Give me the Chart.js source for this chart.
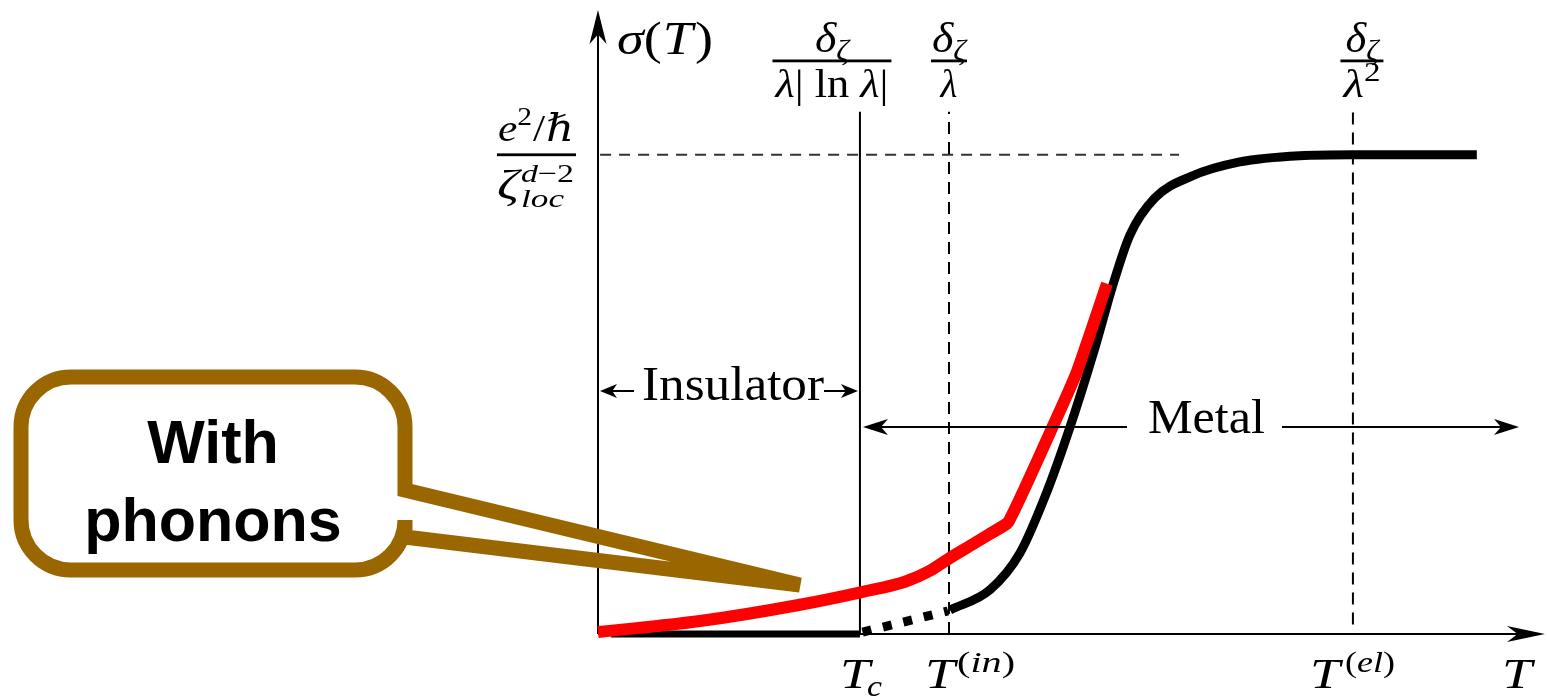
<!DOCTYPE html>
<html><head><meta charset="utf-8">
<script src="https://cdn.jsdelivr.net/npm/chart.js@4"></script>
<style>html,body{margin:0;padding:0;background:#fff}canvas{display:block}</style>
</head><body>
<canvas id="c" width="1547" height="700" style="width:1547px;height:700px"></canvas>
<script>
// ---- data (T in units of Tc, sigma in units of e^2/hbar/zeta^(d-2)) ----
const insulatorT     = [0.05, 1.0];
const insulatorSigma = [0, 0];
const crossoverT     = [1.01, 1.336];
const crossoverSigma = [0.004, 0.048];
const metalT     = [1.344, 1.496, 1.611, 1.706, 1.802, 1.897, 1.966, 2.031, 2.126, 2.260, 2.450, 2.679, 2.882, 3.355];
const metalSigma = [0.050, 0.092, 0.169, 0.286, 0.432, 0.597, 0.729, 0.833, 0.910, 0.954, 0.985, 0.998, 1.000, 1.000];
const phononLowT      = [0, 0.389, 0.771, 1.011, 1.172, 1.267, 1.344, 1.439, 1.565];
const phononLowSigma  = [0.004, 0.027, 0.061, 0.088, 0.109, 0.132, 0.159, 0.190, 0.232];
const phononHighT     = [1.496, 1.565, 1.737, 1.828, 1.943];
const phononHighSigma = [0.209, 0.232, 0.434, 0.547, 0.731];
const markerNames = ['Tc', 'Tin', 'Tel'];
const markerT     = [1.0, 1.340, 2.882];
const markerTop   = 1.09;
const plateauSigma = 1.0;
const plateauT     = [0.008, 2.218];
const regionNames  = ['Insulator', 'Metal'];
const calloutLines = ['With', 'phonons'];

const pts = (xs, ys) => xs.map((x, i) => ({x, y: ys[i]}));
const SERIF = '"Liberation Serif","DejaVu Serif",serif';

function drawParts(ctx, parts, x, y, size, align, fitW) {
  let w = 0; const m = [];
  for (const p of parts) {
    const s = size * (p[2] || 1);
    ctx.font = (p[1] ? 'italic ' : '') + s + 'px ' + SERIF;
    const pw = ctx.measureText(p[0]).width;
    m.push([s, pw]); w += pw + (p[4] || 0) * size;
  }
  const k = fitW ? fitW / w : 1;
  ctx.save();
  ctx.translate(align === 'center' ? x - w * k / 2 : x, y);
  ctx.scale(k, 1);
  let cx = 0;
  parts.forEach((p, i) => {
    ctx.font = (p[1] ? 'italic ' : '') + m[i][0] + 'px ' + SERIF;
    ctx.fillText(p[0], cx, (p[3] || 0) * size);
    cx += m[i][1] + (p[4] || 0) * size;
  });
  ctx.restore();
}
function arrowHead(ctx, tx, ty, dx, dy, len, hw) {
  const px = -dy, py = dx;
  const bx = tx - dx * len, by = ty - dy * len;
  ctx.beginPath();
  ctx.moveTo(tx, ty);
  ctx.lineTo(bx + px * hw, by + py * hw);
  ctx.lineTo(tx - dx * len * 0.72, ty - dy * len * 0.72);
  ctx.lineTo(bx - px * hw, by - py * hw);
  ctx.closePath();
  ctx.fill();
}
function fitText(ctx, text, x, y, w, font) {
  ctx.font = font;
  const mw = ctx.measureText(text).width;
  ctx.save(); ctx.translate(x, y); ctx.scale(w / mw, 1); ctx.fillText(text, 0, 0); ctx.restore();
}

const deco = {
  id: 'deco',
  beforeDraw(chart) {
    const c = chart.ctx; c.save(); c.fillStyle = '#fff'; c.fillRect(0, 0, chart.width, chart.height); c.restore();
  },
  beforeDatasetsDraw(chart) {
    const c = chart.ctx, xs = chart.scales.x, ys = chart.scales.y;
    const x0 = xs.getPixelForValue(0), y0 = ys.getPixelForValue(0);
    c.save();
    c.strokeStyle = '#000'; c.fillStyle = '#000'; c.lineWidth = 2;
    c.beginPath(); c.moveTo(x0, y0); c.lineTo(x0, 25); c.stroke();
    arrowHead(c, x0, 10, 0, -1, 34, 8.5);
    c.beginPath(); c.moveTo(x0, y0); c.lineTo(1520, y0); c.stroke();
    arrowHead(c, 1545, y0, 1, 0, 38, 8);
    c.restore();
  },
  afterDraw(chart) {
    const c = chart.ctx, xs = chart.scales.x, ys = chart.scales.y;
    const x0 = xs.getPixelForValue(0);
    const mx = markerT.map(t => xs.getPixelForValue(t));
    c.save();
    c.fillStyle = '#000'; c.strokeStyle = '#000';
    c.textBaseline = 'alphabetic'; c.textAlign = 'left';
    // sigma(T)
    drawParts(c, [['σ', 1], ['(', 0, 1, 0, 0.02], ['T', 1, 1, 0, 0.04], [')', 0]], 617, 54, 47, 'left', 96);
    // fractions on top
    const fr = (num, den, cx, bw, nW, dW) => {
      drawParts(c, num, cx, 52, 42, 'center', nW);
      c.fillRect(cx - bw / 2, 59.5, bw, 2.8);
      drawParts(c, den, cx, 97, 39, 'center', dW);
    };
    const dz = [['δ', 1], ['ζ', 1, 0.68, 0.2]];
    fr(dz, [['λ', 1], ['| ln ', 0], ['λ', 1], ['|', 0]], mx[0] - 28, 119, 34, 113);
    fr(dz, [['λ', 1]], mx[1], 36, 34, null);
    fr(dz, [['λ', 1], ['2', 0, 0.7, -0.42]], mx[2] + 9, 43, 33, 37);
    // left fraction e^2/hbar over zeta_loc^{d-2}
    const yp = ys.getPixelForValue(plateauSigma);
    drawParts(c, [['e', 1], ['2', 0, 0.68, -0.42, 0.02], ['/', 0, 1, 0, 0.02], ['ℏ', 1]], 536, 141, 38, 'center', 76);
    c.fillRect(497, yp - 1.4, 79, 2.8);
    drawParts(c, [['ζ', 1]], 497, 199, 42, 'left', 22);
    drawParts(c, [['d', 1], ['−2', 0]], 521, 182, 26, 'left', 53);
    drawParts(c, [['loc', 1]], 521, 207, 26, 'left', 43);
    // x-axis labels
    const S = 43, s2 = 29;
    drawParts(c, [['T', 1]], mx[0] - 20, 688, S, 'left', 30);
    drawParts(c, [['c', 1]], mx[0] + 7, 696, s2, 'left', 15);
    drawParts(c, [['T', 1]], mx[1] - 24, 688, S, 'left', 30);
    drawParts(c, [['(', 0], ['in', 1], [')', 0]], mx[1] + 8, 672, s2, 'left', 58);
    drawParts(c, [['T', 1]], mx[2] - 43, 688, S, 'left', 30);
    drawParts(c, [['(', 0], ['el', 1], [')', 0]], mx[2] - 8, 672, s2, 'left', 50);
    drawParts(c, [['T', 1]], 1502, 688, S, 'left', 30);
    // Insulator arrow
    c.lineWidth = 2;
    const yi = 391;
    c.beginPath(); c.moveTo(x0 + 10, yi); c.lineTo(634, yi); c.moveTo(824, yi); c.lineTo(mx[0] - 10, yi); c.stroke();
    arrowHead(c, x0 + 2, yi, -1, 0, 17, 7);
    arrowHead(c, mx[0] - 2, yi, 1, 0, 17, 7);
    fitText(c, regionNames[0], 642, 400, 182, '48px ' + SERIF);
    // Metal arrow
    const ym = 427;
    c.beginPath(); c.moveTo(mx[0] + 14, ym); c.lineTo(1127, ym); c.moveTo(1282, ym); c.lineTo(1505, ym); c.stroke();
    arrowHead(c, mx[0] + 3, ym, -1, 0, 25, 8);
    arrowHead(c, 1519, ym, 1, 0, 25, 8);
    fitText(c, regionNames[1], 1148, 433, 117, '48px ' + SERIF);
    // callout
    c.strokeStyle = '#996600'; c.lineWidth = 15; c.lineJoin = 'miter'; c.miterLimit = 4;
    const L = 21, R = 405, Tp = 377, B = 570, r = 50;
    c.beginPath();
    c.moveTo(200, Tp);
    c.lineTo(R - r, Tp); c.arcTo(R, Tp, R, Tp + r, r);
    c.lineTo(R, 490);
    c.lineTo(800, 585);
    c.lineTo(R, 537);
    c.lineTo(R, B - r); c.arcTo(R, B, R - r, B, r);
    c.lineTo(L + r, B); c.arcTo(L, B, L, B - r, r);
    c.lineTo(L, Tp + r); c.arcTo(L, Tp, L + r, Tp, r);
    c.closePath();
    c.stroke();
    c.fillStyle = '#000'; c.textAlign = 'center';
    c.font = 'bold 61px "Liberation Sans",Arial,sans-serif';
    c.fillText(calloutLines[0], 213, 463);
    c.fillText(calloutLines[1], 213, 541);
    c.restore();
  }
};

const refLine = (xs, ys, dash, w, color) => ({
  data: pts(xs, ys), borderColor: color || '#000', borderWidth: w, borderDash: dash,
  pointRadius: 0, tension: 0, clip: false, order: 5, borderCapStyle: 'butt'
});
const redLine = (xs, ys, mode) => ({
  label: 'With phonons', data: pts(xs, ys), borderColor: '#ff0000', borderWidth: 12,
  pointRadius: 0, cubicInterpolationMode: mode, tension: 0.15, clip: false, order: 0,
  borderCapStyle: 'butt', borderJoinStyle: 'round'
});

const datasets = [
  redLine(phononLowT, phononLowSigma, 'monotone'),
  redLine(phononHighT, phononHighSigma, 'default'),
  { label: 'Insulator', data: pts(insulatorT, insulatorSigma), borderColor: '#000', borderWidth: 7,
    pointRadius: 0, tension: 0, clip: false, order: 1 },
  { label: 'Crossover', data: pts(crossoverT, crossoverSigma), borderColor: '#000', borderWidth: 9, borderDash: [9, 12],
    pointRadius: 0, tension: 0, clip: false, order: 1, borderCapStyle: 'butt' },
  { label: 'Metal', data: pts(metalT, metalSigma), borderColor: '#000', borderWidth: 9,
    pointRadius: 0, cubicInterpolationMode: 'monotone', clip: false, order: 1, borderJoinStyle: 'round' },
  refLine([markerT[0], markerT[0]], [0, markerTop], [], 2),
  refLine([markerT[1], markerT[1]], [0, markerTop], [12, 8], 2),
  refLine([markerT[2], markerT[2]], [0.02, markerTop], [12, 8], 2),
  refLine(plateauT, [plateauSigma, plateauSigma], [11, 8], 1.8, '#333')
];

new Chart(document.getElementById('c'), {
  type: 'line',
  data: { datasets },
  options: {
    responsive: false, animation: false, devicePixelRatio: 1,
    layout: { padding: { left: 598, right: 6, top: 11, bottom: 66 } },
    scales: {
      x: { type: 'linear', min: 0, max: 3.6, display: false },
      y: { type: 'linear', min: 0, max: 1.3, display: false }
    },
    plugins: { legend: { display: false }, tooltip: { enabled: false } }
  },
  plugins: [deco]
});
</script>
</body></html>
